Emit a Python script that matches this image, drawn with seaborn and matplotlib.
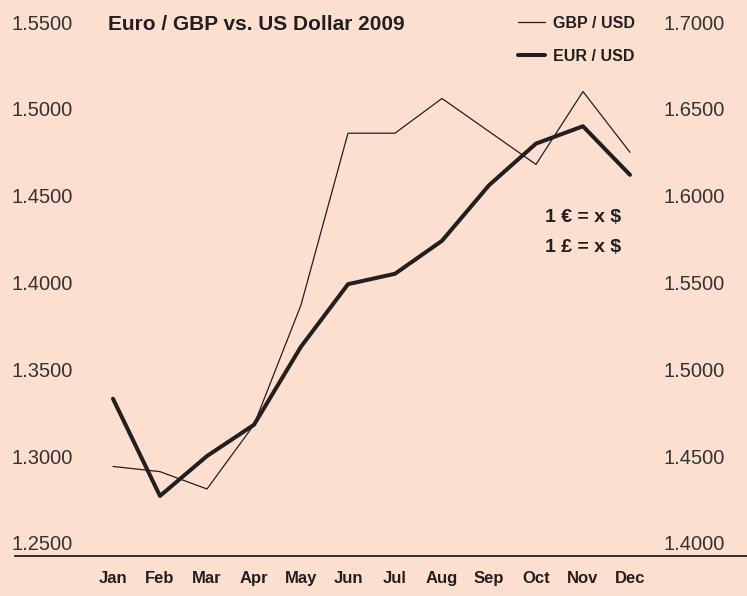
import pandas as pd
import matplotlib
matplotlib.use('Agg')
from matplotlib import pyplot as plt
import seaborn as sns

# values
months = ['Jan', 'Feb', 'Mar', 'Apr', 'May', 'Jun', 'Jul', 'Aug', 'Sep', 'Oct', 'Nov', 'Dec']
eur_usd = [1.333, 1.277, 1.300, 1.318, 1.363, 1.399, 1.405, 1.424, 1.456, 1.480, 1.490, 1.462]
gbp_usd = [1.444, 1.441, 1.431, 1.468, 1.537, 1.636, 1.636, 1.656, 1.637, 1.618, 1.660, 1.625]
left_ticks = [1.25, 1.30, 1.35, 1.40, 1.45, 1.50, 1.55]
right_ticks = [1.40, 1.45, 1.50, 1.55, 1.60, 1.65, 1.70]

df = pd.DataFrame({'pos': range(len(months)), 'month': months,
                   'EUR / USD': eur_usd, 'GBP / USD': gbp_usd})

bg = '#fddfd0'
ink = '#231f20'

sns.set_style('white')
fam = ['Liberation Sans', 'DejaVu Sans']
plt.rcParams['font.family'] = fam

W, H = 747, 596
fig = plt.figure(figsize=(W / 100, H / 100), dpi=100, facecolor=bg)
ax = fig.add_axes([15 / W, 40 / H, (W - 15) / W, (556 - 15) / H])
ax.set_facecolor(bg)
ax2 = ax.twinx()
ax2.patch.set_visible(False)

sns.lineplot(data=df, x='pos', y='GBP / USD', ax=ax2, color=ink, linewidth=0.9, label='GBP / USD')
sns.lineplot(data=df, x='pos', y='EUR / USD', ax=ax, color=ink, linewidth=2.9, label='EUR / USD')

ax.set_xlim(-2.085, 13.49)
ylo, yhi = 1.2424, 1.5541
ax.set_ylim(ylo, yhi)
ax2.set_ylim(ylo + 0.15, yhi + 0.15)

for a in (ax, ax2):
    for s in a.spines.values():
        s.set_visible(False)
    a.set_xlabel('')
    a.set_ylabel('')
ax.spines['bottom'].set_visible(True)
ax.spines['bottom'].set_color(ink)
ax.spines['bottom'].set_linewidth(1.3)

ax.set_xticks(range(len(months)))
ax.set_xticklabels(months, fontweight='bold', fontsize=12, color=ink)
ax.set_yticks(left_ticks)
ax.set_yticklabels([f'{v:.4f}' for v in left_ticks], fontsize=14.5, color='#333333')
ax2.set_yticks(right_ticks)
ax2.set_yticklabels([f'{v:.4f}' for v in right_ticks], fontsize=14.5, color='#333333', ha='right')
ax.tick_params(axis='x', length=0, pad=11)
ax.tick_params(axis='y', length=0, pad=-41.8)
ax2.tick_params(axis='y', length=0, pad=-15.8)

# legend combining both axes
if ax2.get_legend():
    ax2.get_legend().remove()
h1, l1 = ax2.get_legend_handles_labels()
h2, l2 = ax.get_legend_handles_labels()
ax.legend(h1 + h2, l1 + l2, loc='upper left', bbox_to_anchor=(518 / W, 1 - 16 / H),
          bbox_transform=fig.transFigure, frameon=False, borderpad=0, borderaxespad=0,
          handlelength=1.7, handletextpad=0.5, labelspacing=1.1,
          prop={'family': fam, 'weight': 'bold', 'size': 11.5}, labelcolor=ink)

fig.text(108 / W, 1 - 25 / H, 'Euro / GBP vs. US Dollar 2009', fontsize=15, fontweight='bold',
         color=ink, va='center', ha='left')
fig.text(545 / W, 1 - 218 / H, '1 € = x $', fontsize=14, fontweight='bold',
         color=ink, va='center', ha='left')
fig.text(545 / W, 1 - 247 / H, '1 £ = x $', fontsize=14, fontweight='bold',
         color=ink, va='center', ha='left')

fig.savefig('out.png', dpi=100, facecolor=bg)
